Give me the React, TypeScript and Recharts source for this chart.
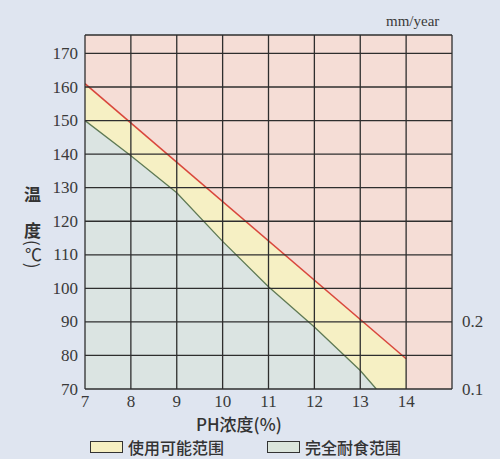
import React from "react";
import {
  ComposedChart,
  Area,
  XAxis,
  YAxis,
  ReferenceLine,
  CartesianGrid,
} from "recharts";

// pH concentration (%) along the x axis
const phValues = [7, 8, 9, 10, 11, 12, 13, 13.35, 14];
// upper limit of the "possible use" band (red line), °C
const limitTemp: (number | null)[] = [161, null, null, null, null, null, null, null, 79];
// upper limit of the "fully corrosion resistant" range (green line), °C
const safeTemp: (number | null)[] = [150, 139.5, 128.5, 114, 100.5, 88.5, 75.5, 70, null];

const xTicks = [7, 8, 9, 10, 11, 12, 13, 14];
const yTicks = [70, 80, 90, 100, 110, 120, 130, 140, 150, 160, 170];
const rightTicks = [70, 90];
const rightLabels = ["0.1", "0.2"];
const xGridLines = [7, 8, 9, 10, 11, 12, 13, 14, 15];
const yGridLines = [70, 80, 90, 100, 110, 120, 130, 140, 150, 160, 170, 175.5];

const legendItems = [
  { label: "使用可能范围", color: "#f6efc2" },
  { label: "完全耐食范围", color: "#dbe5dc" },
];

const data = phValues.map((ph, i) => ({
  ph,
  limit: limitTemp[i],
  safe: safeTemp[i],
}));

const serif = '"Liberation Serif", "DejaVu Serif", serif';
const sans = '"Noto Sans CJK SC", "Noto Sans", sans-serif';

const makeTick =
  (anchor: "start" | "middle" | "end", dy: number, fmt?: (v: number) => string) =>
  (props: any) => {
    const { x, y, payload } = props;
    const v = payload?.value;
    return (
      <text
        x={x}
        y={y}
        dy={dy}
        textAnchor={anchor}
        fill="#3a3a3a"
        style={{ fontFamily: "Liberation Serif", fontSize: 17 }}
      >
        {fmt ? fmt(v) : String(v)}
      </text>
    );
  };

export default function App() {
  return (
    <div
      style={{
        position: "absolute",
        left: 0,
        top: 0,
        width: 500,
        height: 459,
        background: "#dfe5f0",
        overflow: "hidden",
        fontFamily: serif,
      }}
    >
      <ComposedChart
        width={500}
        height={459}
        data={data}
        margin={{ top: 35, right: 0, bottom: 40, left: 0 }}
      >
        <CartesianGrid
          yAxisId="left"
          horizontal={false}
          vertical={false}
          fill="#f5ddd6"
          stroke="none"
        />
        <XAxis
          dataKey="ph"
          type="number"
          domain={[7, 15]}
          ticks={xTicks}
          allowDataOverflow
          axisLine={false}
          tickLine={false}
          tickSize={0}
          tickMargin={6}
          height={30}
          tick={makeTick("middle", 11.5)}
        />
        <YAxis
          yAxisId="left"
          type="number"
          domain={[70, 175.5]}
          ticks={yTicks}
          allowDataOverflow
          axisLine={false}
          tickLine={false}
          tickSize={0}
          tickMargin={7}
          width={85}
          tick={makeTick("end", 5.5)}
        />
        <YAxis
          yAxisId="right"
          orientation="right"
          type="number"
          domain={[70, 175.5]}
          ticks={rightTicks}
          allowDataOverflow
          axisLine={false}
          tickLine={false}
          tickSize={0}
          tickMargin={10}
          width={48}
          tick={makeTick("start", 5.5, (v) => rightLabels[rightTicks.indexOf(v)] ?? "")}
        />
        <Area
          yAxisId="left"
          type="linear"
          dataKey="limit"
          baseValue={70}
          connectNulls
          fill="#f6f0c4"
          fillOpacity={1}
          stroke="#d9473c"
          strokeWidth={1.5}
          dot={false}
          activeDot={false}
          isAnimationActive={false}
        />
        <Area
          yAxisId="left"
          type="linear"
          dataKey="safe"
          baseValue={70}
          connectNulls
          fill="#dbe4e2"
          fillOpacity={1}
          stroke="#5f7a55"
          strokeWidth={1.3}
          dot={false}
          activeDot={false}
          isAnimationActive={false}
        />
        {xGridLines.map((x) => (
          <ReferenceLine
            key={"vx" + x}
            yAxisId="left"
            x={x}
            stroke="#2e2e2e"
            strokeWidth={1.3}
          />
        ))}
        {yGridLines.map((y) => (
          <ReferenceLine
            key={"hy" + y}
            yAxisId="left"
            y={y}
            stroke="#2e2e2e"
            strokeWidth={1.3}
          />
        ))}
      </ComposedChart>

      <div
        style={{
          position: "absolute",
          left: 386,
          top: 12,
          fontFamily: serif,
          fontSize: 15,
          color: "#3a3a3a",
          lineHeight: "18px",
        }}
      >
        mm/year
      </div>

      <div
        style={{
          position: "absolute",
          left: 24,
          top: 184,
          fontFamily: sans,
          fontWeight: 700,
          fontSize: 17,
          color: "#333",
          lineHeight: "20px",
        }}
      >
        温
      </div>
      <div
        style={{
          position: "absolute",
          left: 24,
          top: 220,
          fontFamily: sans,
          fontWeight: 700,
          fontSize: 17,
          color: "#333",
          lineHeight: "20px",
        }}
      >
        度
      </div>
      <div
        style={{
          position: "absolute",
          left: 23,
          top: 240,
          fontFamily: sans,
          fontSize: 17,
          color: "#333",
          writingMode: "vertical-rl",
          lineHeight: "20px",
        }}
      >
        (℃)
      </div>

      <div
        style={{
          position: "absolute",
          left: 196,
          top: 413,
          fontFamily: sans,
          fontSize: 17,
          fontWeight: 500,
          color: "#333",
          lineHeight: "22px",
        }}
      >
        PH浓度(%)
      </div>

      {legendItems.map((item, i) => (
        <div
          key={item.label}
          style={{
            position: "absolute",
            left: 90 + i * 177,
            top: 437,
            display: "flex",
            alignItems: "center",
            fontFamily: sans,
            fontSize: 16,
            fontWeight: 500,
            color: "#333",
            lineHeight: "20px",
          }}
        >
          <span
            style={{
              display: "inline-block",
              width: 31,
              height: 10,
              background: item.color,
              border: "1.5px solid #333",
              marginRight: 5,
            }}
          />
          {item.label}
        </div>
      ))}
    </div>
  );
}
